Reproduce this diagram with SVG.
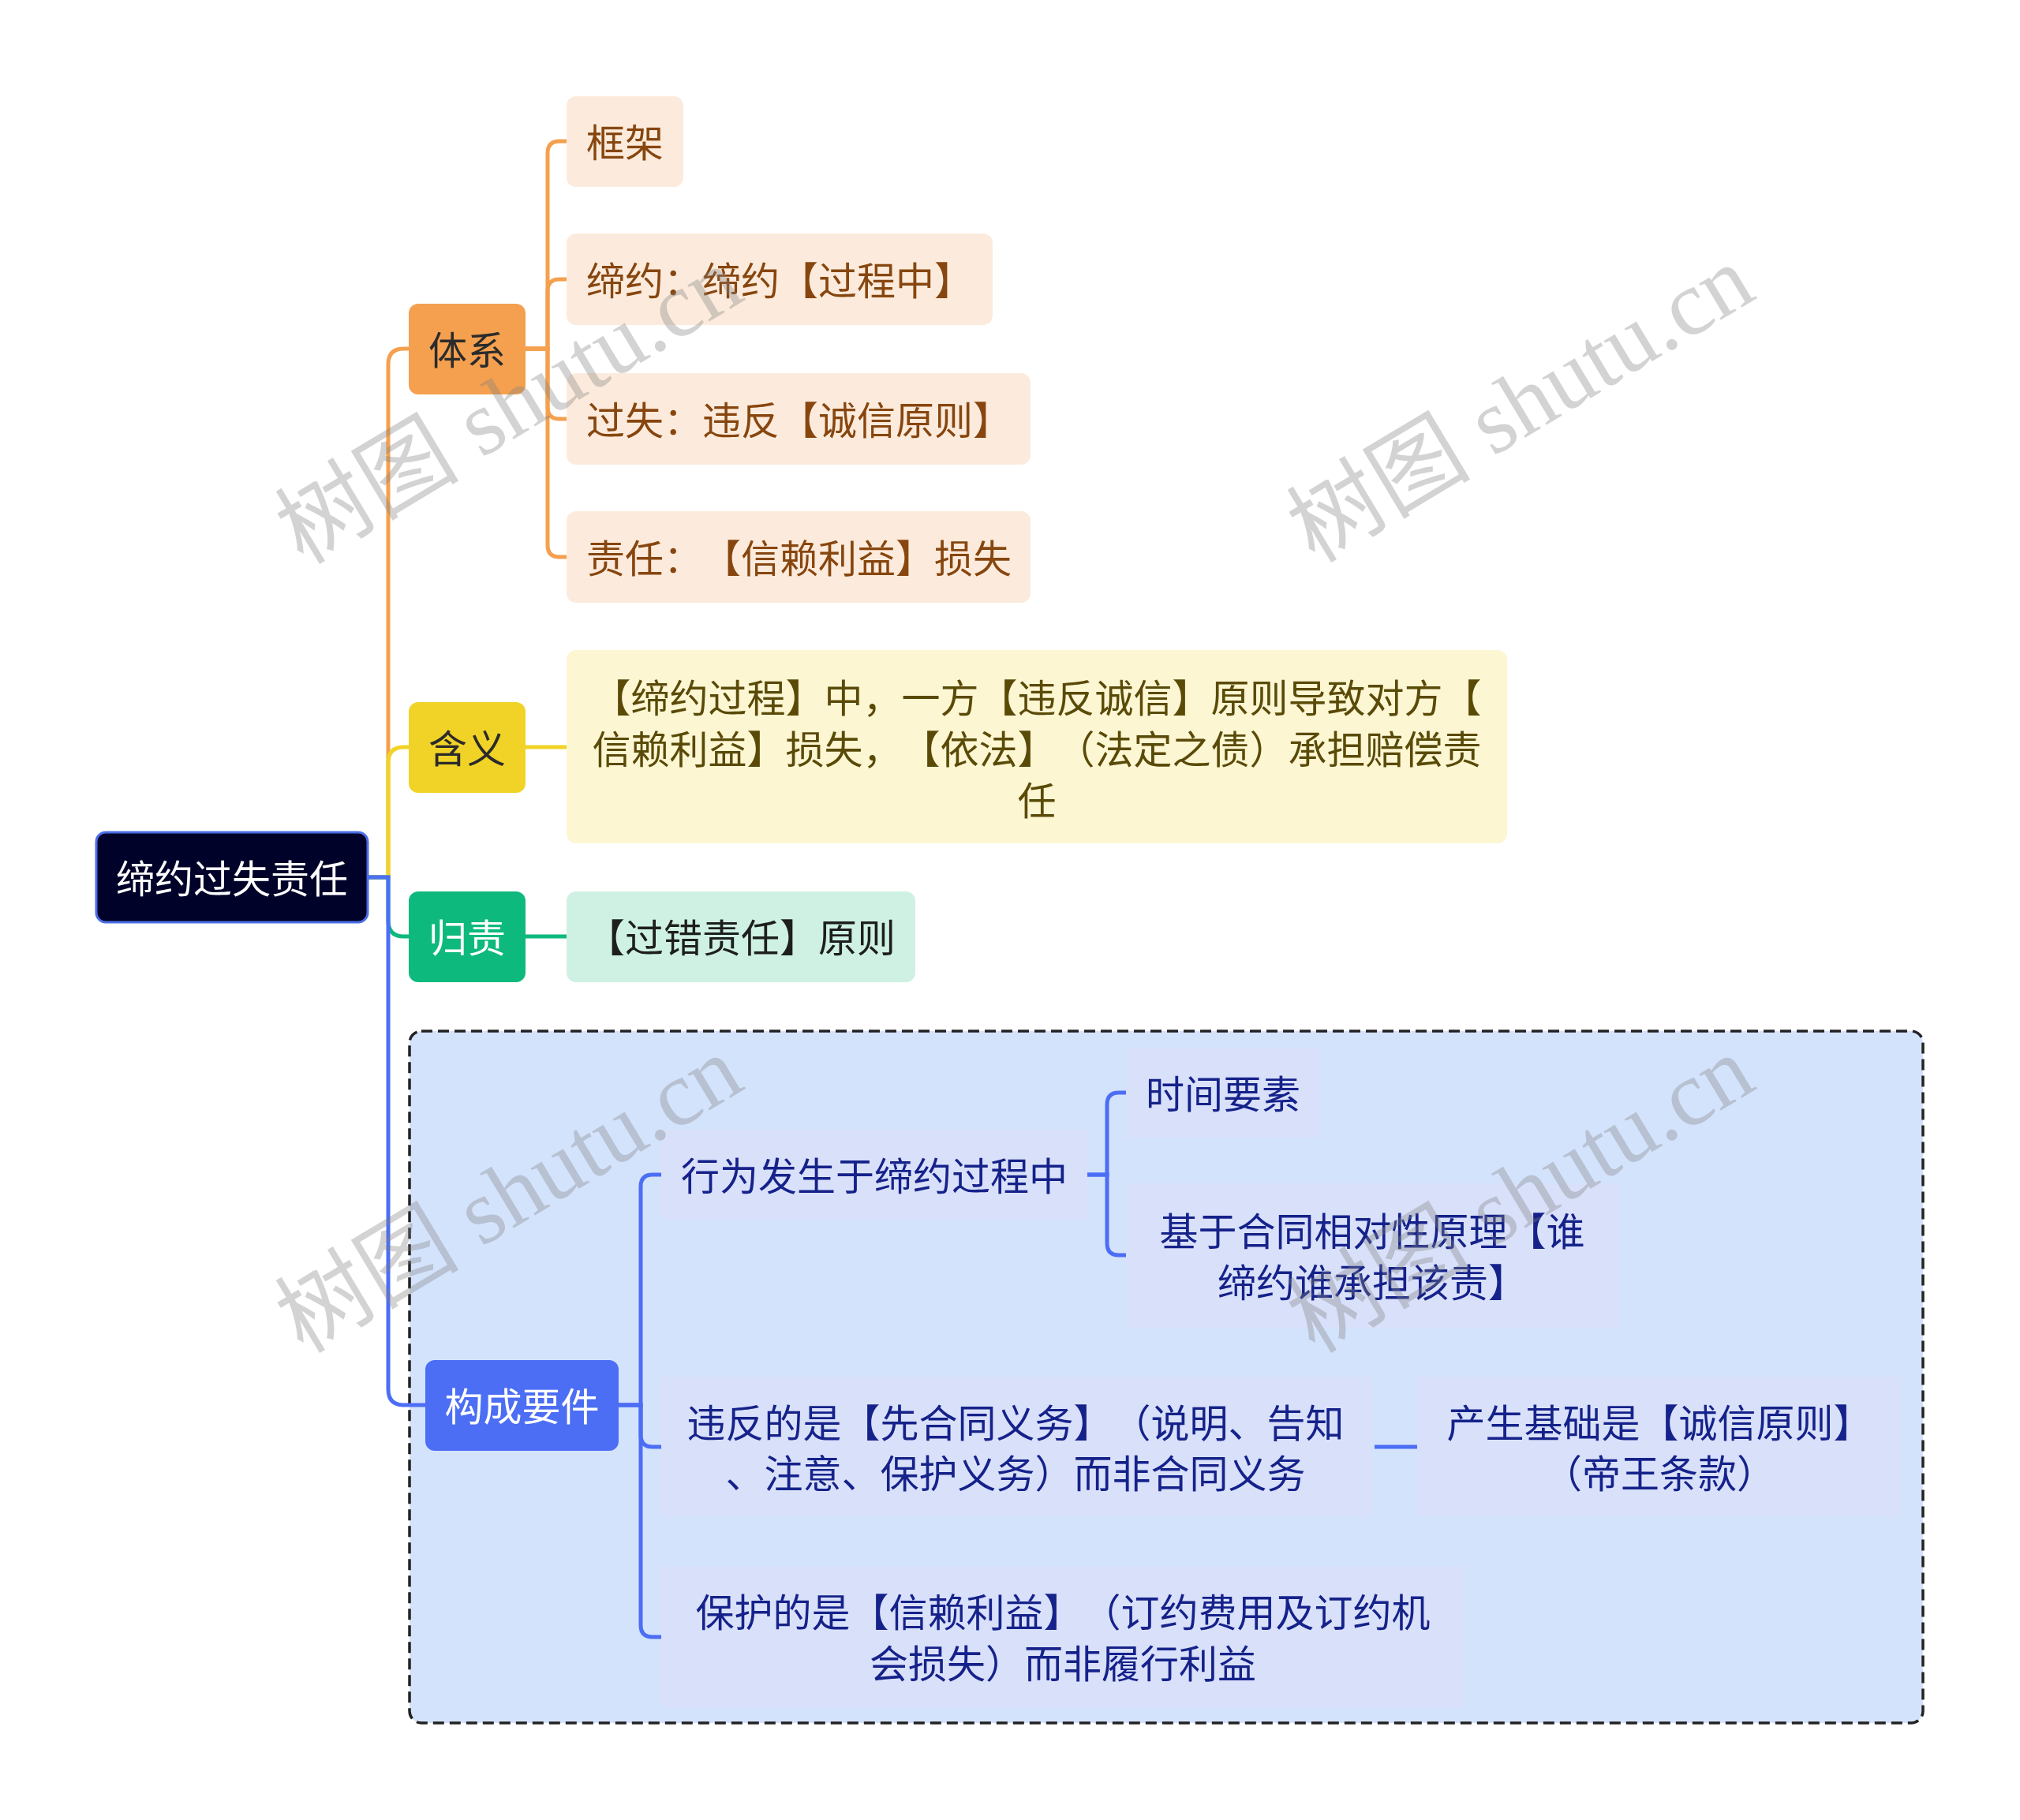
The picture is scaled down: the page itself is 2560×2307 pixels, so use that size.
<svg xmlns="http://www.w3.org/2000/svg" width="2560" height="2307" viewBox="0 0 2560 2307">
<style>
text{font-family:"Noto Sans CJK SC","Noto Sans",sans-serif;font-size:49px;dominant-baseline:central;text-spacing-trim:space-all}
.c{fill:none;stroke-width:5;stroke-linecap:butt}
.or{stroke:#F4A04F}.ye{stroke:#F1D327}.gr{stroke:#0EB97D}.bl{stroke:#4C6EF5}
.l2o{fill:#FCEBDC}.t2o{fill:#87460F}
.mid{text-anchor:middle}
.bt{fill:#15228A}
.fb{fill:#D9E0FA}
.wm{font-family:"Liberation Serif","Noto Sans CJK SC",serif;font-size:117px;fill:#808080;fill-opacity:0.35;text-anchor:middle}
</style>
<rect width="2560" height="2307" fill="#FFFFFF"/>
<g id="frame">
<rect x="519" y="1307" width="1918" height="877" rx="15" fill="#D4E3FC" stroke="#222" stroke-width="3.5" stroke-dasharray="14 7"/>
</g>
<g id="connectors">
<path class="c or" d="M466,1112 H492 V462 Q492,442 512,442 H518"/>
<path class="c ye" d="M466,1112 H492 V967 Q492,947 512,947 H518"/>
<path class="c gr" d="M466,1112 H492 V1167 Q492,1187 512,1187 H518"/>
<path class="c bl" d="M466,1112 H492 V1761 Q492,1781 512,1781 H539"/>
<path class="c or" d="M666,442 H694 V194 Q694,179 709,179 H718"/>
<path class="c or" d="M666,442 H694 V369 Q694,354 709,354 H718"/>
<path class="c or" d="M666,442 H694 V516 Q694,531 709,531 H718"/>
<path class="c or" d="M666,442 H694 V691 Q694,706 709,706 H718"/>
<path class="c ye" d="M666,947 H718"/>
<path class="c gr" d="M666,1187 H718"/>
<path class="c bl" d="M784,1781 H812 V1504 Q812,1489 827,1489 H838"/>
<path class="c bl" d="M784,1781 H812 V1819 Q812,1834 827,1834 H838"/>
<path class="c bl" d="M784,1781 H812 V2060 Q812,2075 827,2075 H838"/>
<path class="c bl" d="M1378,1489 H1403 V1400 Q1403,1385 1418,1385 H1427"/>
<path class="c bl" d="M1378,1489 H1403 V1576 Q1403,1591 1418,1591 H1427"/>
<path class="c bl" d="M1742,1834 H1796"/>
</g>
<g id="root">
<rect x="122" y="1055" width="344" height="114" rx="12" fill="#000229" stroke="#4B6EE6" stroke-width="3"/>
<text x="294" y="1110" class="mid" fill="#FFFFFF">缔约过失责任</text>
</g>
<g id="n-tixi">
<rect x="518" y="385" width="148" height="115" rx="12" fill="#F4A04F"/>
<text x="592" y="440" class="mid" fill="#2B2B2B">体系</text>
</g>
<g id="n-kuangjia">
<rect class="l2o" x="718" y="122" width="148" height="115" rx="12"/>
<text class="t2o" x="743" y="177">框架</text>
</g>
<g id="n-diyue">
<rect class="l2o" x="718" y="296" width="540" height="116" rx="12"/>
<text class="t2o" x="743" y="352">缔约：缔约【过程中】</text>
</g>
<g id="n-guoshi">
<rect class="l2o" x="718" y="473" width="588" height="116" rx="12"/>
<text class="t2o" x="743" y="529">过失：违反【诚信原则】</text>
</g>
<g id="n-zeren">
<rect class="l2o" x="718" y="648" width="588" height="116" rx="12"/>
<text class="t2o" x="743" y="704">责任：【信赖利益】损失</text>
</g>
<g id="n-hanyi">
<rect x="518" y="890" width="148" height="115" rx="12" fill="#F1D327"/>
<text x="592" y="945" class="mid" fill="#2B2B2B">含义</text>
</g>
<g id="n-hanyi-content">
<rect x="718" y="824" width="1192" height="245" rx="12" fill="#FCF6D3"/>
<text class="mid" fill="#5A4A08" x="1314" y="881">【缔约过程】中，一方【违反诚信】原则导致对方【</text>
<text class="mid" fill="#5A4A08" x="1314" y="946">信赖利益】损失，【依法】（法定之债）承担赔偿责</text>
<text class="mid" fill="#5A4A08" x="1314" y="1011">任</text>
</g>
<g id="n-guize">
<rect x="518" y="1130" width="148" height="115" rx="12" fill="#0EB97D"/>
<text x="592" y="1185" class="mid" fill="#FFFFFF">归责</text>
</g>
<g id="n-guize-content">
<rect x="718" y="1130" width="442" height="115" rx="12" fill="#CEF1E3"/>
<text x="743" y="1185" fill="#1E1E1E">【过错责任】原则</text>
</g>
<g id="n-goucheng">
<rect x="539" y="1724" width="245" height="115" rx="12" fill="#4C6EF5"/>
<text x="661.5" y="1779" class="mid" fill="#FFFFFF">构成要件</text>
</g>
<g id="n-xingwei">
<rect class="fb" x="838" y="1432" width="540" height="114"/>
<text class="bt" x="863" y="1487">行为发生于缔约过程中</text>
</g>
<g id="n-shijian">
<rect class="fb" x="1427" y="1328" width="246" height="114"/>
<text class="bt" x="1452" y="1383">时间要素</text>
</g>
<g id="n-jiyu">
<rect class="fb" x="1427" y="1500" width="624" height="183"/>
<text class="bt mid" x="1739" y="1557">基于合同相对性原理【谁</text>
<text class="bt mid" x="1739" y="1622">缔约谁承担该责】</text>
</g>
<g id="n-weifan">
<rect class="fb" x="838" y="1745" width="899" height="178"/>
<text class="bt mid" x="1287" y="1800">违反的是【先合同义务】（说明、告知</text>
<text class="bt mid" x="1287" y="1864">、注意、保护义务）而非合同义务</text>
</g>
<g id="n-chansheng">
<rect class="fb" x="1796" y="1745" width="614" height="178"/>
<text class="bt mid" x="2103" y="1800">产生基础是【诚信原则】</text>
<text class="bt mid" x="2103" y="1864">（帝王条款）</text>
</g>
<g id="n-baohu">
<rect class="fb" x="838" y="1985" width="1018" height="180"/>
<text class="bt mid" x="1347" y="2040">保护的是【信赖利益】（订约费用及订约机</text>
<text class="bt mid" x="1347" y="2105">会损失）而非履行利益</text>
</g>
<g id="watermarks">
<text class="wm" transform="translate(645,514) rotate(-31)">树图 shutu.cn</text>
<text class="wm" transform="translate(1927,512) rotate(-31)">树图 shutu.cn</text>
<text class="wm" transform="translate(645,1514) rotate(-31)">树图 shutu.cn</text>
<text class="wm" transform="translate(1927,1514) rotate(-31)">树图 shutu.cn</text>
</g>
</svg>
